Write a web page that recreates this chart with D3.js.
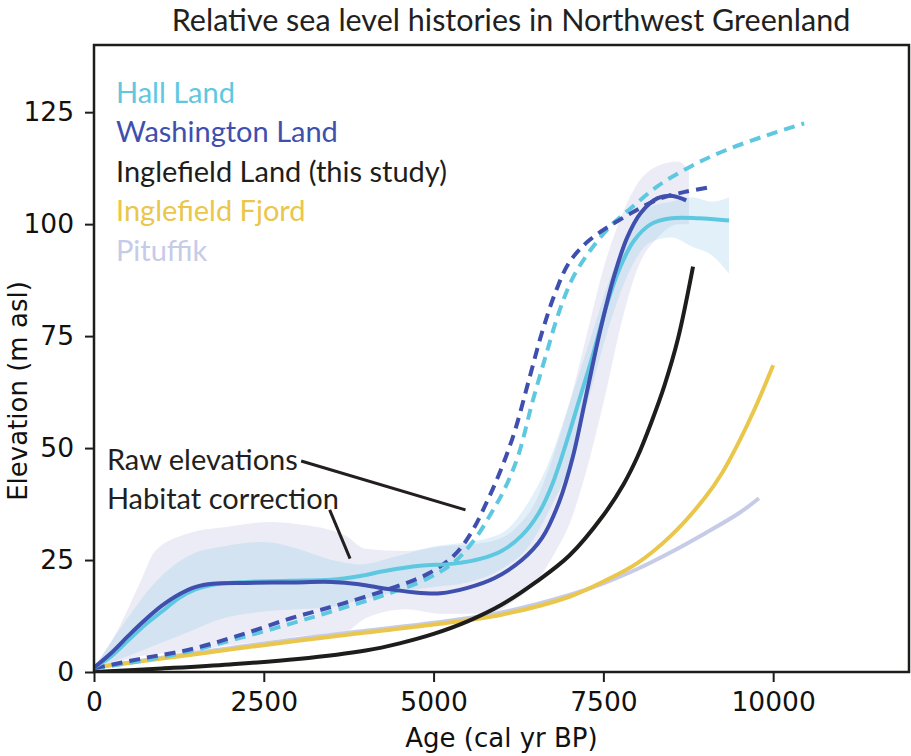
<!DOCTYPE html>
<html>
<head>
<meta charset="utf-8">
<script src="https://cdnjs.cloudflare.com/ajax/libs/d3/7.8.5/d3.min.js"></script>
<style>
  body { margin: 0; background: #fff; }
  svg { display: block; }
</style>
</head>
<body>
<svg id="chart" width="911" height="756"></svg>
<script>
/** DATA: ages in cal yr BP, elevations in m asl **/
var hallAge   = [0, 250, 500, 750, 1000, 1250, 1500, 1750, 2250, 2900, 3500, 3900, 4300, 4800, 5300, 5700, 6000, 6300, 6550, 6750, 6950, 7150, 7350, 7550, 7750, 7950, 8200, 8500, 8900, 9350];
var hallElev  = [1, 3.5, 7, 10.5, 13.5, 16.5, 18.5, 19.5, 20.1, 20.4, 20.6, 21.4, 22.6, 23.7, 24.2, 25.3, 27, 30.5, 35.5, 42, 51, 61, 71, 82, 90.5, 96.3, 100, 101.3, 101.3, 100.8];

var washAge   = [0, 250, 500, 750, 1000, 1250, 1500, 1750, 2250, 2900, 3500, 3900, 4300, 4700, 5100, 5500, 5900, 6300, 6600, 6850, 7050, 7250, 7450, 7650, 7850, 8050, 8300, 8520, 8720];
var washElev  = [1, 4.2, 8, 11.6, 14.8, 17.3, 19, 19.7, 19.9, 20, 20.1, 19.6, 18.6, 17.8, 17.6, 18.8, 21, 25, 30, 38, 48, 62, 76, 88, 97, 102.5, 105.8, 106.3, 105.3];

var hallRawAge  = [0, 700, 1400, 2100, 2900, 3600, 4300, 4900, 5300, 5600, 5850, 6050, 6250, 6450, 6650, 6850, 7050, 7300, 7600, 7900, 8300, 8800, 9300, 9900, 10456];
var hallRawElev = [0.8, 2.5, 4.6, 7.4, 10.8, 14, 17.3, 20.8, 24.5, 29.5, 35.5, 41, 48.5, 60, 70.5, 80.5, 88, 94, 99.5, 103.5, 108.5, 113, 116.5, 119.8, 122.5];

var washRawAge  = [0, 700, 1400, 2100, 2900, 3600, 4300, 4900, 5300, 5550, 5800, 6000, 6200, 6400, 6600, 6800, 7000, 7300, 7800, 8300, 8700, 9100];
var washRawElev = [0.8, 3, 5, 8, 12, 15, 18.3, 21.8, 26, 31, 38.5, 45.5, 54, 65, 76, 85, 91.5, 96.5, 101.5, 105.5, 107.2, 108.3];

var inglLandAge  = [0, 1000, 2000, 3000, 4000, 4500, 5000, 5500, 6000, 6500, 7000, 7500, 7800, 8000, 8200, 8400, 8600, 8820];
var inglLandElev = [0, 0.8, 1.7, 2.9, 4.8, 6.4, 8.5, 11.3, 15, 20, 26, 35, 42, 48, 55.5, 64, 74.5, 90.5];

var inglFjordAge  = [0, 1000, 2000, 3000, 4000, 5000, 6000, 7000, 7500, 8000, 8500, 9000, 9250, 9500, 9750, 10000];
var inglFjordElev = [1, 3, 5, 7, 8.8, 10.6, 12.8, 16.8, 20.2, 24.3, 30.5, 39, 44.5, 51.5, 59.5, 68.5];

var pituAge  = [0, 1000, 2000, 3000, 4000, 5000, 6000, 7000, 7500, 8000, 8500, 9000, 9500, 9790];
var pituElev = [1, 3.2, 5.3, 7.4, 9.2, 11, 13.3, 17.2, 19.8, 23, 26.8, 31, 35.5, 38.8];

// uncertainty envelopes
var washBandAge   = [0, 300, 680, 900, 1400, 2000, 2600, 3000, 3700, 4000, 4600, 5100, 5800, 6200, 6500, 6800, 7000, 7250, 7500, 7800, 8000, 8300, 8600, 8760];
var washBandUpper = [1, 8, 20, 27, 31, 32.5, 33.5, 33, 30.5, 27.5, 27, 28, 29, 32, 38, 50, 60, 75, 90, 103, 109, 113, 114, 112];
var washBandLower = [1, 2, 3.5, 4, 4.5, 6, 7, 8, 9, 12, 14, 13, 13, 16, 20, 27, 33, 45, 60, 80, 90, 97, 100, 100];

var hallBandAge   = [0, 400, 900, 1400, 1900, 2500, 3000, 3500, 3900, 4500, 5000, 5500, 6000, 6400, 6700, 7000, 7300, 7600, 7900, 8200, 8500, 8800, 9100, 9350];
var hallBandUpper = [1, 10, 20, 26, 28, 29, 27.5, 25, 24, 26, 28, 29, 31, 38, 47, 60, 74, 88, 98, 104, 105, 106, 105, 106];
var hallBandLower = [1, 3, 6, 9, 12, 13.5, 14, 14.5, 16, 18, 19, 20, 23, 28, 36, 46, 62, 78, 90, 96, 97, 95, 93, 89];

var xTicks = [0, 2500, 5000, 7500, 10000];
var yTicks = [0, 25, 50, 75, 100, 125];

var legendNames  = ["Hall Land", "Washington Land", "Inglefield Land (this study)", "Inglefield Fjord", "Pituffik"];
var legendColors = ["#5ec8e0", "#3f4fae", "#1d1d1b", "#eac64a", "#c6cbe8"];

/** LAYOUT **/
var svg = d3.select("#chart");
var width = 911, height = 756;
var margin = {top: 45, right: 2, bottom: 84, left: 94};
var textFont = "Lato, 'Open Sans', sans-serif";
var tickFont = "'DejaVu Sans', sans-serif";
var darkText = "#231f20";

var x = d3.scaleLinear().domain([0, 12000]).range([margin.left, width - margin.right]);
var y = d3.scaleLinear().domain([0, 140]).range([height - margin.bottom, margin.top]);

function zipSeries(ages, elevs) {
  return ages.map(function(a, i) { return {age: a, elev: elevs[i]}; });
}

function zipBand(ages, lows, highs) {
  return ages.map(function(a, i) { return {age: a, lo: lows[i], hi: highs[i]}; });
}

var line = d3.line()
  .x(function(d) { return x(d.age); })
  .y(function(d) { return y(d.elev); })
  .curve(d3.curveCatmullRom.alpha(0.5));

var area = d3.area()
  .x(function(d) { return x(d.age); })
  .y0(function(d) { return y(d.lo); })
  .y1(function(d) { return y(d.hi); })
  .curve(d3.curveMonotoneX);

// clip to axes box
svg.append("clipPath").attr("id", "plotclip")
  .append("rect")
    .attr("x", margin.left).attr("y", margin.top)
    .attr("width", width - margin.left - margin.right)
    .attr("height", height - margin.top - margin.bottom);

var plot = svg.append("g").attr("clip-path", "url(#plotclip)");

/* envelopes */
plot.append("path")
  .datum(zipBand(washBandAge, washBandLower, washBandUpper))
  .attr("d", area)
  .attr("fill", "#c8cbe3")
  .attr("opacity", 0.36);

plot.append("path")
  .datum(zipBand(hallBandAge, hallBandLower, hallBandUpper))
  .attr("d", area)
  .attr("fill", "#a8d2ee")
  .attr("opacity", 0.33);

function drawCurve(ages, elevs, color, dashed) {
  plot.append("path")
    .datum(zipSeries(ages, elevs))
    .attr("d", line)
    .attr("fill", "none")
    .attr("stroke", color)
    .attr("stroke-width", 4)
    .attr("stroke-dasharray", dashed ? "11,7" : null)
    .attr("stroke-linecap", "butt");
}

drawCurve(pituAge, pituElev, legendColors[4], false);
drawCurve(inglFjordAge, inglFjordElev, legendColors[3], false);
drawCurve(inglLandAge, inglLandElev, legendColors[2], false);
drawCurve(hallRawAge, hallRawElev, legendColors[0], true);
drawCurve(washRawAge, washRawElev, legendColors[1], true);
drawCurve(hallAge, hallElev, legendColors[0], false);
drawCurve(washAge, washElev, legendColors[1], false);

/* axes box */
svg.append("rect")
  .attr("x", margin.left).attr("y", margin.top)
  .attr("width", width - margin.left - margin.right)
  .attr("height", height - margin.top - margin.bottom)
  .attr("fill", "none")
  .attr("stroke", "#1d1d1b")
  .attr("stroke-width", 2.5);

svg.append("g")
  .attr("transform", "translate(0," + (height - margin.bottom) + ")")
  .call(d3.axisBottom(x).tickValues(xTicks).tickFormat(d3.format("d")).tickSize(10).tickPadding(10));

svg.append("g")
  .attr("transform", "translate(" + margin.left + ",0)")
  .call(d3.axisLeft(y).tickValues(yTicks).tickFormat(d3.format("d")).tickSize(9).tickPadding(11));

svg.selectAll(".domain").remove();
svg.selectAll(".tick line").attr("stroke", "#1d1d1b").attr("stroke-width", 2);
svg.selectAll(".tick text")
  .style("font-family", tickFont)
  .style("font-size", "26.5px")
  .attr("fill", "#111");

/* axis titles */
svg.append("text")
  .attr("x", (margin.left + width - margin.right) / 2)
  .attr("y", 747)
  .attr("text-anchor", "middle")
  .style("font-family", tickFont)
  .style("font-size", "26px")
  .attr("fill", "#111")
  .text("Age (cal yr BP)");

svg.append("text")
  .attr("transform", "translate(27,391) rotate(-90)")
  .attr("text-anchor", "middle")
  .style("font-family", tickFont)
  .style("font-size", "26px")
  .attr("fill", "#111")
  .text("Elevation (m asl)");

/* title */
svg.append("text")
  .attr("x", 511)
  .attr("y", 31)
  .attr("text-anchor", "middle")
  .style("font-family", textFont)
  .style("font-size", "30.5px")
  .attr("fill", darkText)
  .text("Relative sea level histories in Northwest Greenland");

/* legend */
svg.selectAll(".legend_text")
  .data(legendNames)
  .enter()
  .append("text")
    .attr("class", "legend_text")
    .attr("x", 116)
    .attr("y", function(d, i) { return 102.5 + i * 39.6; })
    .style("font-family", textFont)
    .style("font-size", "29px")
    .attr("fill", function(d, i) { return legendColors[i]; })
    .text(function(d) { return d; });

/* annotations, anchored in data units */
var notes = [
  {label: "Raw elevations", tx: 190, ty: 45.1, from: [3050, 47.1], to: [5470, 36.2]},
  {label: "Habitat correction", tx: 190, ty: 36.5, from: [3470, 36.2], to: [3770, 25.3]}
];

svg.selectAll(".note_text")
  .data(notes)
  .enter()
  .append("text")
    .attr("class", "note_text")
    .attr("x", function(d) { return x(d.tx); })
    .attr("y", function(d) { return y(d.ty); })
    .style("font-family", textFont)
    .style("font-size", "29px")
    .attr("fill", darkText)
    .text(function(d) { return d.label; });

svg.selectAll(".note_line")
  .data(notes)
  .enter()
  .append("line")
    .attr("class", "note_line")
    .attr("x1", function(d) { return x(d.from[0]); })
    .attr("y1", function(d) { return y(d.from[1]); })
    .attr("x2", function(d) { return x(d.to[0]); })
    .attr("y2", function(d) { return y(d.to[1]); })
    .attr("stroke", darkText)
    .attr("stroke-width", 3);
</script>
</body>
</html>
